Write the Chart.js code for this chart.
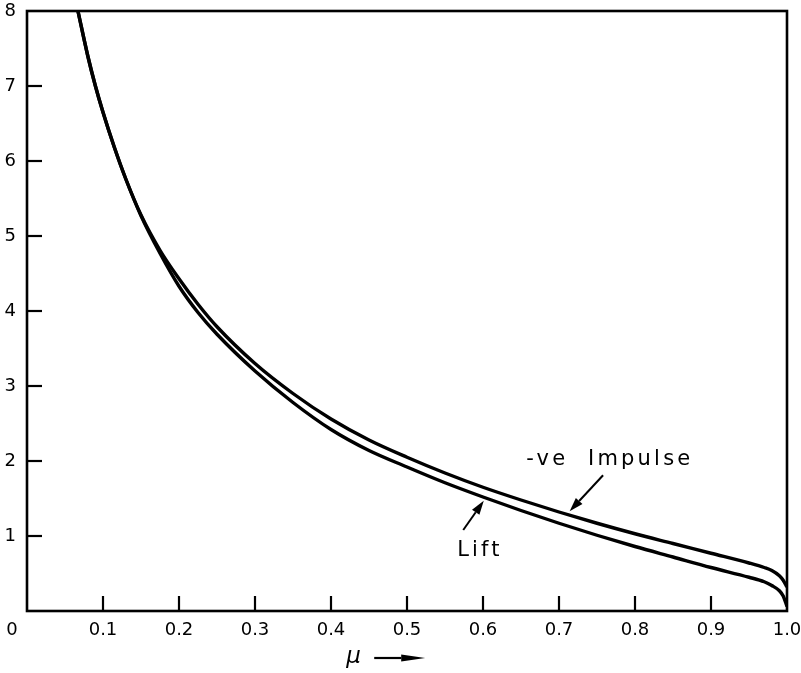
<!DOCTYPE html>
<html>
<head>
<meta charset="utf-8">
<script src="https://cdn.jsdelivr.net/npm/chart.js@4.4.1/dist/chart.umd.min.js"></script>
<style>
  html, body { margin: 0; padding: 0; background: #fff; }
  #wrap { width: 801px; height: 673px; }
</style>
</head>
<body>
<div id="wrap"><canvas id="grafico" width="801" height="673"></canvas></div>
<script>
// valores
const mu       = [0.067, 0.08, 0.09, 0.1, 0.115, 0.13, 0.15, 0.175, 0.2, 0.225, 0.25, 0.3, 0.35, 0.4, 0.45, 0.5, 0.55, 0.6, 0.65, 0.7, 0.75, 0.8, 0.85, 0.9, 0.95, 0.97, 0.98, 0.99, 0.995, 1.0];
const impulso  = [8.0, 7.4, 7.0, 6.65, 6.18, 5.76, 5.28, 4.81, 4.43, 4.09, 3.79, 3.3, 2.9, 2.56, 2.28, 2.05, 1.84, 1.65, 1.48, 1.32, 1.17, 1.03, 0.9, 0.77, 0.64, 0.58, 0.54, 0.47, 0.41, 0.32];
const lift     = [8.0, 7.4, 7.0, 6.65, 6.18, 5.76, 5.27, 4.77, 4.33, 3.98, 3.69, 3.2, 2.78, 2.42, 2.14, 1.92, 1.71, 1.52, 1.34, 1.17, 1.01, 0.86, 0.72, 0.58, 0.45, 0.39, 0.34, 0.27, 0.2, 0.06];
const xTicks   = [0, 0.1, 0.2, 0.3, 0.4, 0.5, 0.6, 0.7, 0.8, 0.9, 1.0];
const yTicks   = [0, 1, 2, 3, 4, 5, 6, 7, 8];

const FUENTE = 'DejaVu Sans';

function puntos(ys) {
  return mu.map((m, i) => ({ x: m, y: ys[i] }));
}

function linea(ctx, x1, y1, x2, y2) {
  ctx.beginPath();
  ctx.moveTo(x1, y1);
  ctx.lineTo(x2, y2);
  ctx.stroke();
}

// flecha con punta rellena
function flecha(ctx, x1, y1, x2, y2, largo, ancho) {
  const ang = Math.atan2(y2 - y1, x2 - x1);
  const bx = x2 - largo * Math.cos(ang), by = y2 - largo * Math.sin(ang);
  linea(ctx, x1, y1, bx, by);
  ctx.beginPath();
  ctx.moveTo(x2, y2);
  ctx.lineTo(bx + ancho * Math.sin(ang), by - ancho * Math.cos(ang));
  ctx.lineTo(bx - ancho * Math.sin(ang), by + ancho * Math.cos(ang));
  ctx.closePath();
  ctx.fill();
}

function sinMargen(s) {
  s.paddingTop = 0;
  s.paddingBottom = 0;
  s.paddingLeft = 0;
  s.paddingRight = 0;
}

const marco = {
  id: 'marco',
  afterDraw(chart) {
    const { ctx, chartArea: a, scales: { x, y } } = chart;
    ctx.save();
    ctx.strokeStyle = '#000';
    ctx.fillStyle = '#000';
    ctx.lineWidth = 2.6;
    ctx.strokeRect(a.left, a.top, a.right - a.left, a.bottom - a.top);

    // marcas hacia adentro
    ctx.lineWidth = 2.2;
    xTicks.forEach(t => {
      if (t <= 0 || t >= 1) return;
      const px = x.getPixelForValue(t);
      linea(ctx, px, a.bottom, px, a.bottom - 15);
    });
    yTicks.forEach(t => {
      if (t <= 0 || t >= 8) return;
      const py = y.getPixelForValue(t);
      linea(ctx, a.left, py, a.left + 15, py);
    });

    // el "0" del origen
    ctx.font = '18px ' + FUENTE;
    ctx.textAlign = 'center';
    ctx.textBaseline = 'middle';
    ctx.fillText('0', a.left - 15, a.bottom + 19);

    // etiquetas de las curvas
    ctx.font = '21px ' + FUENTE;
    ctx.letterSpacing = '3.2px';
    ctx.textAlign = 'left';
    ctx.textBaseline = 'alphabetic';
    ctx.fillText('-ve  Impulse', x.getPixelForValue(0.657), y.getPixelForValue(1.95));
    ctx.fillText('Lift', x.getPixelForValue(0.566), y.getPixelForValue(0.73));
    ctx.letterSpacing = '0px';

    ctx.lineWidth = 2;
    flecha(ctx, x.getPixelForValue(0.758), y.getPixelForValue(1.81),
                x.getPixelForValue(0.714), y.getPixelForValue(1.33), 14, 4.5);
    flecha(ctx, x.getPixelForValue(0.574), y.getPixelForValue(1.08),
                x.getPixelForValue(0.601), y.getPixelForValue(1.47), 14, 4.5);

    // titulo del eje x: mu con flecha
    const mx = x.getPixelForValue(0.42);
    ctx.font = 'italic 23px ' + FUENTE;
    ctx.fillText('\u03bc', mx, a.bottom + 52);
    ctx.lineWidth = 2.2;
    flecha(ctx, mx + 28, a.bottom + 47, mx + 79, a.bottom + 47, 24, 3.5);
    ctx.restore();
  }
};

new Chart(document.getElementById('grafico'), {
  type: 'line',
  data: {
    datasets: [
      {
        label: '-ve Impulse',
        data: puntos(impulso),
        borderColor: '#000',
        borderWidth: 3.4,
        pointRadius: 0,
        cubicInterpolationMode: 'monotone',
        fill: false
      },
      {
        label: 'Lift',
        data: puntos(lift),
        borderColor: '#000',
        borderWidth: 3.4,
        pointRadius: 0,
        cubicInterpolationMode: 'monotone',
        fill: false
      }
    ]
  },
  options: {
    responsive: false,
    animation: false,
    layout: { padding: { left: 0, top: 11, right: 14, bottom: 0 } },
    plugins: { legend: { display: false }, tooltip: { enabled: false } },
    scales: {
      x: {
        type: 'linear',
        min: 0,
        max: 1,
        afterBuildTicks: s => { s.ticks = xTicks.map(v => ({ value: v })); },
        afterFit: s => { s.height = 62; sinMargen(s); },
        grid: { display: false, drawTicks: false },
        border: { display: false },
        ticks: {
          padding: 9,
          color: '#000',
          font: { family: FUENTE, size: 18 },
          maxRotation: 0,
          autoSkip: false,
          callback: v => v === 0 ? '' : v.toFixed(1)
        }
      },
      y: {
        min: 0,
        max: 8,
        afterBuildTicks: s => { s.ticks = yTicks.map(v => ({ value: v })); },
        afterFit: s => { s.width = 27; sinMargen(s); },
        grid: { display: false, drawTicks: false },
        border: { display: false },
        ticks: {
          padding: 11,
          color: '#000',
          font: { family: FUENTE, size: 18 },
          autoSkip: false,
          callback: v => v === 0 ? '' : String(v)
        }
      }
    }
  },
  plugins: [marco]
});
</script>
</body>
</html>
